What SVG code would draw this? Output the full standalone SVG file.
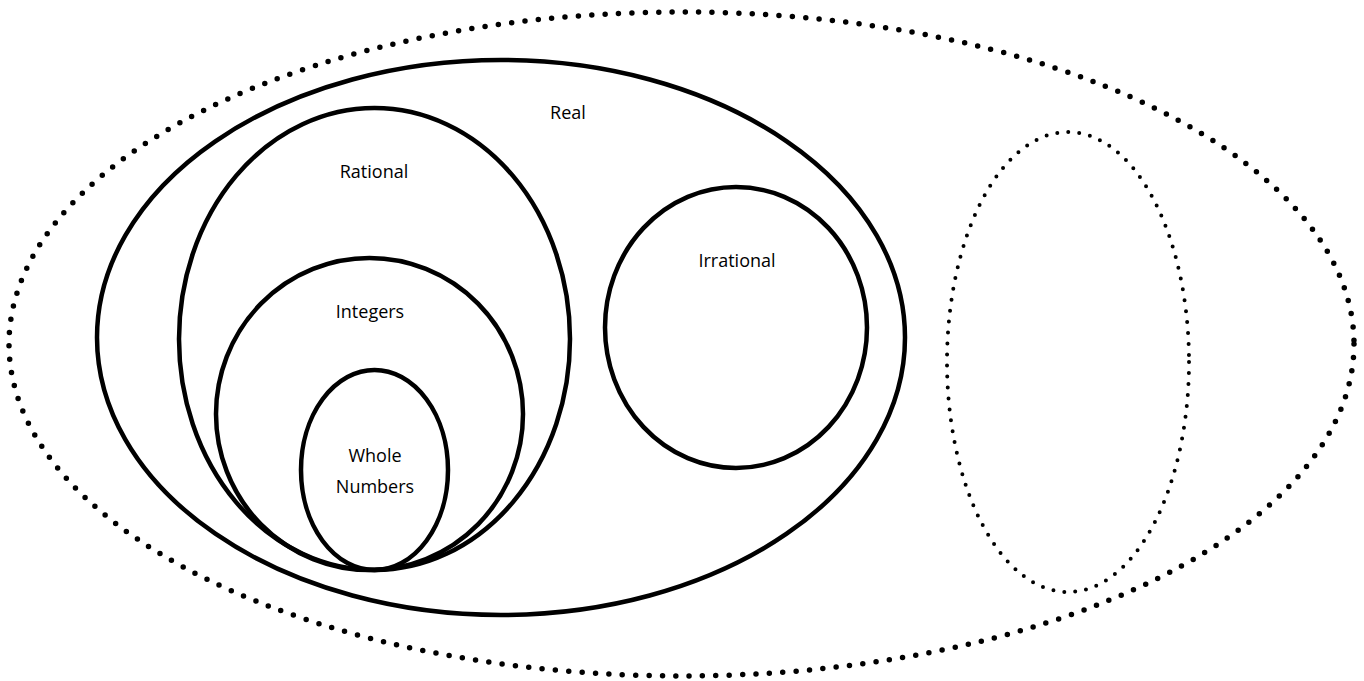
<svg xmlns="http://www.w3.org/2000/svg" width="1364" height="681" viewBox="0 0 1364 681">
<style>
.solid{fill:none;stroke:#000;stroke-width:4.5}
.dotL{fill:none;stroke:#000;stroke-width:5.5;stroke-linecap:round;stroke-dasharray:0 13.4}
.dotS{fill:none;stroke:#000;stroke-width:4;stroke-linecap:round;stroke-dasharray:0 11}
.lbl{font-family:"Open Sans","Noto Sans",sans-serif;font-size:18px;fill:#000;text-anchor:middle}
</style>
<rect width="1364" height="681" fill="#fff"/>
<g id="universe"><ellipse class="dotL" cx="681.5" cy="344" rx="672.5" ry="332"/></g>
<g id="other-set"><ellipse class="dotS" cx="1068" cy="362" rx="121" ry="230"/></g>
<g id="real"><ellipse class="solid" cx="501" cy="337.5" rx="404" ry="277.5"/><text class="lbl" x="568" y="119">Real</text></g>
<g id="rational"><ellipse class="solid" cx="374.5" cy="339" rx="195.5" ry="231"/><text class="lbl" x="374" y="178">Rational</text></g>
<g id="integers"><ellipse class="solid" cx="369.5" cy="414" rx="153.5" ry="156"/><text class="lbl" x="370" y="318">Integers</text></g>
<g id="whole"><ellipse class="solid" cx="374.5" cy="470" rx="73.5" ry="100"/><text class="lbl" x="375" y="462">Whole</text><text class="lbl" x="375" y="493">Numbers</text></g>
<g id="irrational"><ellipse class="solid" cx="736" cy="327.5" rx="131" ry="140.5"/><text class="lbl" x="737" y="267">Irrational</text></g>
<g id="connectors"></g>
</svg>
